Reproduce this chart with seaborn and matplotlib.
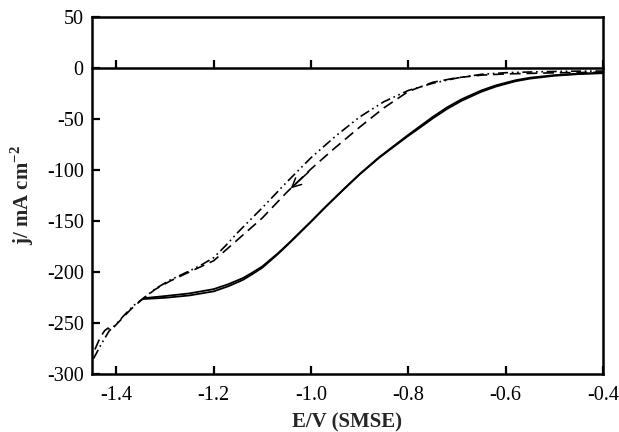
import matplotlib
matplotlib.use("Agg")
import matplotlib.pyplot as plt
import seaborn as sns

# Cathodic polarisation curves, E vs SMSE (V) and current density (mA cm^-2)
e_cycle_a = [-1.447, -1.43, -1.415, -1.4, -1.385, -1.365, -1.344, -1.32, -1.29, -1.25,
             -1.225, -1.2, -1.175, -1.15, -1.1, -1.05, -1.0, -0.95, -0.9, -0.85,
             -0.8, -0.75, -0.7, -0.65, -0.6, -0.55, -0.5, -0.45, -0.4]
j_cycle_a = [-285, -270, -258, -251, -243, -233, -225.7, -216.5, -208, -199,
             -193, -186, -174, -161, -137, -112, -88, -67, -48, -33,
             -22, -15, -9.8, -6.2, -4.6, -3.9, -3.4, -3.1, -3.0]

e_cycle_b = [-1.444, -1.433, -1.424, -1.417, -1.412, -1.405, -1.385, -1.37, -1.344, -1.32,
             -1.29, -1.25, -1.2, -1.15, -1.1, -1.05, -1.0, -0.95, -0.9, -0.85,
             -0.8, -0.75, -0.7, -0.65, -0.6, -0.5, -0.4]
j_cycle_b = [-276, -264, -257.5, -255, -257, -254, -244, -236.5, -225.7, -217,
             -209, -200, -189, -168, -147, -122, -99, -78, -58, -39,
             -23, -14, -9.5, -7, -5.8, -4.7, -4.2]

e_solid = [-1.344, -1.3, -1.25, -1.2, -1.17, -1.14, -1.12, -1.1, -1.07, -1.045,
           -1.02, -1.0, -0.97, -0.93, -0.9, -0.86, -0.83, -0.8, -0.78, -0.75,
           -0.72, -0.69, -0.65, -0.62, -0.58, -0.55, -0.5, -0.45, -0.4]
j_solid_1 = [-225.7, -223.6, -221.0, -216.8, -212.0, -206.0, -200.5, -194.5, -182.5, -171.5,
             -159.8, -150.5, -136, -117.5, -104, -87.5, -76.5, -65.5, -58.5, -48,
             -38.5, -30.5, -22, -17, -12, -9.5, -7, -5.5, -4.6]
j_solid_2 = [-226.5, -225.3, -223.0, -219.0, -214.0, -207.8, -202.0, -195.8, -183.3, -172.0,
             -160.2, -150.8, -136.3, -117.8, -104.3, -88, -77.2, -66.5, -59.8, -49.5,
             -40, -32, -23.3, -18.2, -13, -10.4, -7.6, -6.0, -5.1]

x_ticks = [-1.4, -1.2, -1.0, -0.8, -0.6, -0.4]
y_ticks = [50, 0, -50, -100, -150, -200, -250, -300]

sns.set_theme(style="ticks")
plt.rcParams["font.family"] = ["Liberation Serif", "DejaVu Serif"]
plt.rcParams["mathtext.fontset"] = "custom"
plt.rcParams["mathtext.rm"] = "Liberation Serif"
plt.rcParams["mathtext.bf"] = "Liberation Serif:bold"
plt.rcParams["axes.unicode_minus"] = False

fig = plt.figure(figsize=(6.19, 4.32), dpi=100)
ax = fig.add_axes([0.1486, 0.1343, 0.8255, 0.8263])

sns.lineplot(x=e_solid, y=j_solid_1, ax=ax, color="black", lw=1.3, sort=False,
             estimator=None)
sns.lineplot(x=e_solid, y=j_solid_2, ax=ax, color="black", lw=1.3, sort=False,
             estimator=None)
sns.lineplot(x=e_cycle_a, y=j_cycle_a, ax=ax, color="black", lw=1.2, sort=False,
             estimator=None)
sns.lineplot(x=e_cycle_b, y=j_cycle_b, ax=ax, color="black", lw=1.2, sort=False,
             estimator=None)
ax.lines[2].set_dashes([6, 2.2, 1, 2.2, 1, 2.2])
ax.lines[3].set_dashes([6.5, 3.5])

# scan direction arrow on the return sweep
ax.annotate("", xy=(-1.0415, -118), xytext=(-1.005, -102),
            arrowprops=dict(arrowstyle="->", color="black", lw=1.1,
                            mutation_scale=16, shrinkA=0, shrinkB=0))

ax.set_xlim(-1.45, -0.4)
ax.set_ylim(-300, 50)
ax.set_xticks(x_ticks)
ax.set_xticklabels([f"{v:.1f}" for v in x_ticks])
ax.set_yticks(y_ticks)
ax.set_yticklabels([f"{v:d}" for v in y_ticks])

for s in ax.spines.values():
    s.set_visible(True)
    s.set_linewidth(1.8)
    s.set_color("black")

ax.tick_params(axis="both", direction="in", length=5.5, width=1.6, color="black",
               labelsize=14.5, labelcolor="black", pad=6)
ax.tick_params(axis="x", pad=9)

# zero-current axis with its own tick marks
zero_axis = ax.secondary_xaxis(0, transform=ax.transData)
zero_axis.set_xticks(x_ticks)
zero_axis.tick_params(direction="in", length=5.5, width=1.6, color="black",
                      labelbottom=False, labeltop=False)
for s in zero_axis.spines.values():
    s.set_linewidth(1.8)
    s.set_color("black")

ax.set_xlabel("E/V (SMSE)", fontsize=15, fontweight="bold", labelpad=5)
ax.set_ylabel(r"j/ mA cm$^{\mathbf{-2}}$", fontsize=15, fontweight="bold",
              labelpad=8)

fig.savefig("out.png", dpi=100)
